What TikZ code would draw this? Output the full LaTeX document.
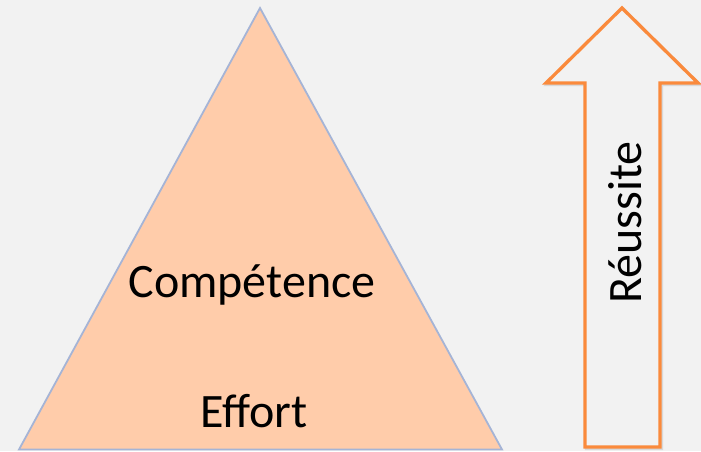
\documentclass[tikz,border=0pt]{standalone}
\usepackage{fontspec}
\setmainfont{Carlito}
\definecolor{bg}{HTML}{F2F2F2}
\definecolor{peach}{HTML}{FFCCAA}
\definecolor{triline}{HTML}{A5B4D6}
\definecolor{arroworange}{HTML}{FA8A3C}
\begin{document}
\begin{tikzpicture}[x=1pt,y=-1pt,
  label/.style={font=\fontsize{48}{57}\selectfont, text=black, inner sep=0pt, anchor=base},
  tri/.style={fill=peach, draw=triline, line width=1.8pt, line join=miter},
  arr/.style={draw=arroworange, line width=3.3pt, fill=bg, line join=miter}]
\fill[bg] (0,0) rectangle (701,451);
\useasboundingbox (0,0) rectangle (701,451);
% triangle
\coordinate (apex) at (260,8);
\coordinate (bl) at (19,449.5);
\coordinate (br) at (502,449.5);
\draw[tri] (apex) -- (br) -- (bl) -- cycle;
\node[label] (comp) at (252,297) {Compétence};
\node[label] (eff) at (254,427) {Effort};
% arrow shadow
\draw[line width=3.3pt, draw=black!25, opacity=0.5, line join=miter, xshift=1.5pt, yshift=-1.5pt]
  (585,447) -- (585,83) -- (546,83) -- (622,8) -- (698,83) -- (660,83) -- (660,447) -- cycle;
% arrow
\draw[arr] (585,447) -- (585,83) -- (546,83) -- (622,8) -- (698,83) -- (660,83) -- (660,447) -- cycle;
\node[label, rotate=90] (reu) at (641,222.5) {Réussite};
\end{tikzpicture}
\end{document}
